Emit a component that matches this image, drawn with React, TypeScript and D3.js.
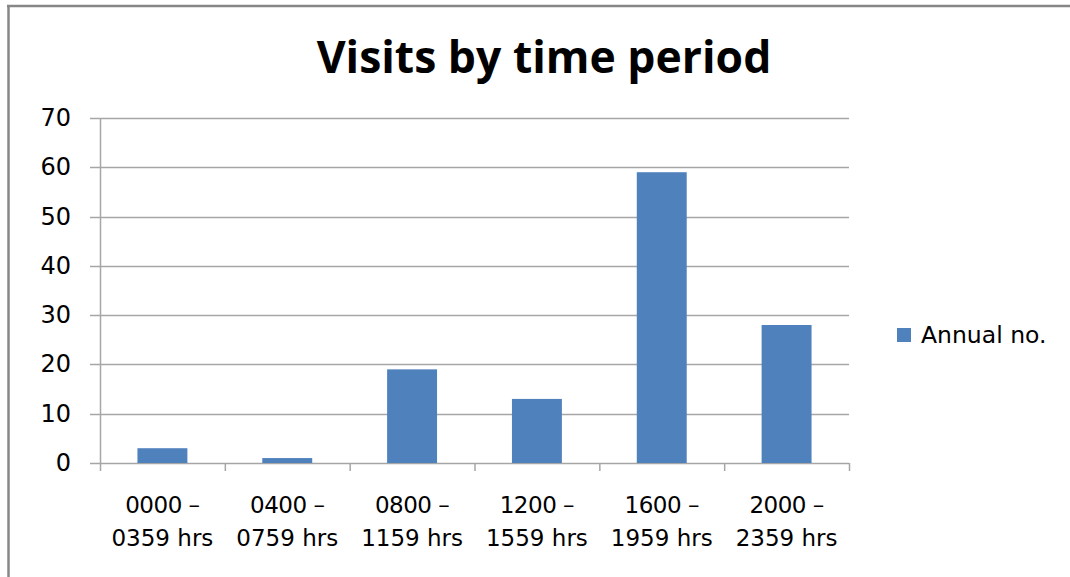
import React from "react";
import * as d3 from "d3";

const categoriesLine1 = ["0000 –", "0400 –", "0800 –", "1200 –", "1600 –", "2000 –"];
const categoriesLine2 = ["0359 hrs", "0759 hrs", "1159 hrs", "1559 hrs", "1959 hrs", "2359 hrs"];
const annualNo = [3, 1, 19, 13, 59, 28];
const yTicks = [0, 10, 20, 30, 40, 50, 60, 70];
const seriesName = "Annual no.";
const title = "Visits by time period";

export default function App() {
  const W = 1070, H = 577;
  const left = 100, right = 849, top = 118, bottom = 463;
  const cats = categoriesLine1.map((_, i) => String(i));
  const x = d3.scaleBand().domain(cats).range([left, right]).paddingInner(0).paddingOuter(0);
  const y = d3.scaleLinear().domain([0, 70]).range([bottom, top]);
  const bw = x.bandwidth() * 0.4;
  const font = "'DejaVu Sans', sans-serif";
  const grid = "#a6a6a6";
  return (
    <svg width={W} height={H} style={{ position: "absolute", left: 0, top: 0, background: "#fff" }}>
      <rect x={0} y={0} width={W} height={H} fill="#fff" />
      <line x1={8.5} y1={5} x2={8.5} y2={H} stroke="#878787" strokeWidth={2.5} />
      <line x1={7} y1={6} x2={W} y2={6} stroke="#878787" strokeWidth={2.5} />
      <text x={544} y={73} textAnchor="middle" fontFamily="'Open Sans', sans-serif" fontWeight={700} fontSize={44.5} fill="#000">{title}</text>
      {yTicks.map((t) => (
        <g key={t}>
          <line x1={90} x2={right} y1={Math.round(y(t)) + 0.5} y2={Math.round(y(t)) + 0.5} stroke={grid} strokeWidth={1.5} />
          <text x={71} y={y(t) + 8} textAnchor="end" fontFamily={font} fontSize={24} fill="#000">{t}</text>
        </g>
      ))}
      <line x1={left + 0.5} x2={left + 0.5} y1={top} y2={bottom + 8} stroke={grid} strokeWidth={1.5} />
      {cats.map((c) => (
        <line key={"t" + c} x1={(x(c) as number) + x.bandwidth() + 0.5} x2={(x(c) as number) + x.bandwidth() + 0.5} y1={bottom} y2={bottom + 8} stroke={grid} strokeWidth={1.5} />
      ))}
      {annualNo.map((v, i) => {
        const cx = (x(cats[i]) as number) + x.bandwidth() / 2;
        return <rect key={"b" + i} x={cx - bw / 2} y={y(v)} width={bw} height={bottom - y(v)} fill="#4f81bd" />;
      })}
      {cats.map((c, i) => {
        const cx = (x(c) as number) + x.bandwidth() / 2;
        return (
          <g key={"l" + c}>
            <text x={cx} y={513} textAnchor="middle" fontFamily={font} fontSize={23} letterSpacing={-0.5} fill="#000">{categoriesLine1[i]}</text>
            <text x={cx} y={546} textAnchor="middle" fontFamily={font} fontSize={23} fill="#000">{categoriesLine2[i]}</text>
          </g>
        );
      })}
      <rect x={897} y={328} width={14} height={14} fill="#4f81bd" />
      <text x={921} y={343} fontFamily={font} fontSize={23.5} fill="#000">{seriesName}</text>
    </svg>
  );
}
